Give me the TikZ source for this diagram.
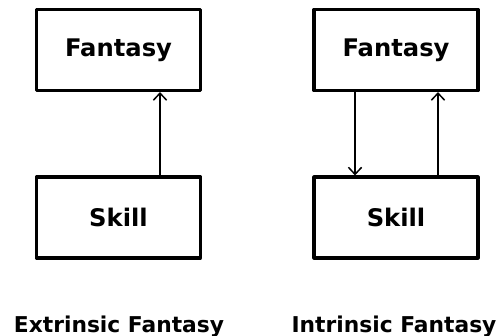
\documentclass[tikz,border=0pt]{standalone}
\usepackage{fontspec}
\setmainfont{DejaVu Sans}
\usetikzlibrary{arrows.meta}
\begin{document}
\begin{tikzpicture}[x=0.02cm, y=-0.02cm, >={Straight Barb[length=4pt,width=7.5pt]}, line join=round,
	font=\fontsize{13.8}{16}\selectfont\bfseries,
	box/.style={draw, line width=1.8pt, minimum width=3.28cm, minimum height=1.62cm, inner sep=0pt},
	link/.style={->, line width=0.85pt},
	caption/.style={anchor=base, font=\fontsize{12.4}{14}\selectfont\bfseries}]
			\useasboundingbox (0,0) rectangle (502,335);
			% Extrinsic
			\node[box] (fanL) at (118.5,50) {Fantasy};
			\node[box] (skiL) at (118.5,217.5) {Skill};
			\node[caption] (labL) at (119,332) {Extrinsic Fantasy};
			\draw[link] ([xshift=0.83cm]skiL.north) -- ([xshift=0.83cm]fanL.south);
			% Intrinsic
			\node[box] (fanR) at (396,50) {Fantasy};
			\node[box] (skiR) at (396,217.5) {Skill};
			\node[caption] (labR) at (394,332) {Intrinsic Fantasy};
			\draw[link] ([xshift=-0.82cm]fanR.south) -- ([xshift=-0.82cm]skiR.north);
			\draw[link] ([xshift=0.84cm]skiR.north) -- ([xshift=0.84cm]fanR.south);
\end{tikzpicture}
\end{document}
